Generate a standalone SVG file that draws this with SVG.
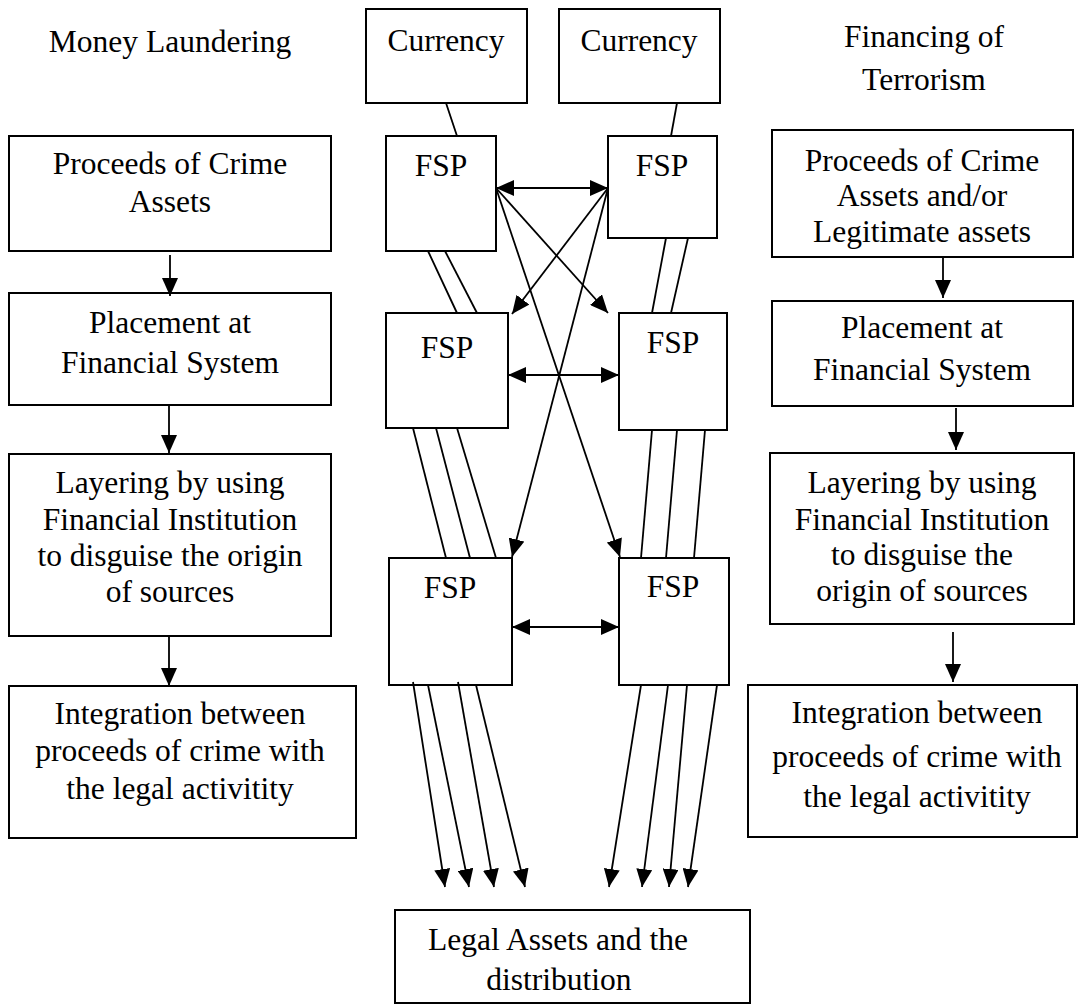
<svg xmlns="http://www.w3.org/2000/svg" width="1079" height="1006" viewBox="0 0 1079 1006">
<style>
rect{fill:#fff;stroke:#000;stroke-width:2}
text{font-size:31.5px;fill:#000;text-anchor:middle}
.c line{stroke:#000;stroke-width:1.8}
.a{marker-end:url(#ah)}
.d{marker-start:url(#ah);marker-end:url(#ah)}
</style>
<defs>
<marker id="ah" markerUnits="userSpaceOnUse" markerWidth="18" markerHeight="16" refX="18" refY="8" orient="auto-start-reverse" viewBox="0 0 18 16">
<path d="M0,0 L18,8 L0,16 z" fill="#000"/>
</marker>
</defs>
<g font-family="Liberation Serif, Times New Roman, DejaVu Serif, serif">
<g id="title-ml"><text x="170" y="52">Money Laundering</text></g>
<g id="title-ft"><text x="924" y="47">Financing of</text><text x="924" y="90">Terrorism</text></g>
<g id="ml-proceeds"><rect x="9" y="136" width="322" height="115"/><text x="170" y="174">Proceeds of Crime</text><text x="170" y="212">Assets</text></g>
<g id="ml-placement"><rect x="9" y="293" width="322" height="112"/><text x="170" y="333">Placement at</text><text x="170" y="373">Financial System</text></g>
<g id="ml-layering"><rect x="9" y="454" width="322" height="182"/><text x="170" y="493">Layering by using</text><text x="170" y="530">Financial Institution</text><text x="170" y="566">to disguise the origin</text><text x="170" y="602">of sources</text></g>
<g id="ml-integration"><rect x="9" y="686" width="347" height="152"/><text x="180" y="724">Integration between</text><text x="180" y="761">proceeds of crime with</text><text x="180" y="799">the legal activitity</text></g>
<g id="ft-proceeds"><rect x="772" y="130" width="301" height="127"/><text x="922" y="171">Proceeds of Crime</text><text x="922" y="206">Assets and/or</text><text x="922" y="242">Legitimate assets</text></g>
<g id="ft-placement"><rect x="772" y="301" width="301" height="105"/><text x="922" y="338">Placement at</text><text x="922" y="380">Financial System</text></g>
<g id="ft-layering"><rect x="770" y="453" width="304" height="171"/><text x="922" y="493">Layering by using</text><text x="922" y="530">Financial Institution</text><text x="922" y="565">to disguise the</text><text x="922" y="601">origin of sources</text></g>
<g id="ft-integration"><rect x="748" y="685" width="329" height="152"/><text x="917" y="723">Integration between</text><text x="917" y="767">proceeds of crime with</text><text x="917" y="807">the legal activitity</text></g>
<g id="currency1"><rect x="366" y="9" width="161" height="94"/><text x="446" y="51">Currency</text></g>
<g id="currency2"><rect x="559" y="9" width="161" height="94"/><text x="639" y="51">Currency</text></g>
<g id="fsp1"><rect x="386" y="136" width="110" height="115"/><text x="441" y="176">FSP</text></g>
<g id="fsp2"><rect x="608" y="136" width="109" height="102"/><text x="662" y="176">FSP</text></g>
<g id="fsp3"><rect x="386" y="313" width="122" height="115"/><text x="447" y="358">FSP</text></g>
<g id="fsp4"><rect x="619" y="313" width="108" height="117"/><text x="673" y="353">FSP</text></g>
<g id="fsp5"><rect x="389" y="558" width="123" height="127"/><text x="450" y="598">FSP</text></g>
<g id="fsp6"><rect x="619" y="558" width="110" height="127"/><text x="673" y="597">FSP</text></g>
<g id="legal-assets"><rect x="395" y="910" width="355" height="93"/><text x="558" y="950">Legal Assets and the</text><text x="559" y="990">distribution</text></g>
</g>
<g id="connectors" class="c">
<line class="a" x1="170" y1="255" x2="170" y2="296"/>
<line class="a" x1="169" y1="405" x2="169" y2="453"/>
<line class="a" x1="169" y1="636" x2="169" y2="686"/>
<line class="a" x1="943" y1="257" x2="943" y2="298"/>
<line class="a" x1="956" y1="408" x2="956" y2="450"/>
<line class="a" x1="953" y1="632" x2="953" y2="682"/>
<line x1="446" y1="103" x2="457" y2="136"/>
<line x1="677" y1="103" x2="671" y2="136"/>
<line class="d" x1="496" y1="188" x2="608" y2="188"/>
<line class="d" x1="508" y1="375" x2="619" y2="375"/>
<line class="d" x1="512" y1="627" x2="619" y2="627"/>
<line class="a" x1="496" y1="188" x2="608" y2="313"/>
<line class="a" x1="608" y1="188" x2="512" y2="314"/>
<line class="a" x1="496" y1="188" x2="620" y2="557"/>
<line class="a" x1="608" y1="188" x2="512" y2="557"/>
<line x1="428" y1="251" x2="457" y2="313"/>
<line x1="445" y1="251" x2="477" y2="313"/>
<line x1="666" y1="238" x2="652" y2="313"/>
<line x1="688" y1="238" x2="671" y2="313"/>
<line x1="413" y1="428" x2="446" y2="558"/>
<line x1="436" y1="428" x2="470" y2="558"/>
<line x1="457" y1="428" x2="496" y2="558"/>
<line x1="652" y1="430" x2="641" y2="558"/>
<line x1="677" y1="430" x2="666" y2="558"/>
<line x1="705" y1="430" x2="694" y2="558"/>
<line class="a" x1="413" y1="682" x2="445" y2="887"/>
<line class="a" x1="428" y1="685" x2="469" y2="887"/>
<line class="a" x1="458" y1="682" x2="494" y2="887"/>
<line class="a" x1="476" y1="685" x2="525" y2="887"/>
<line class="a" x1="641" y1="685" x2="609" y2="887"/>
<line class="a" x1="668" y1="685" x2="642" y2="887"/>
<line class="a" x1="687" y1="685" x2="669" y2="887"/>
<line class="a" x1="717" y1="685" x2="688" y2="887"/>
</g>
</svg>
